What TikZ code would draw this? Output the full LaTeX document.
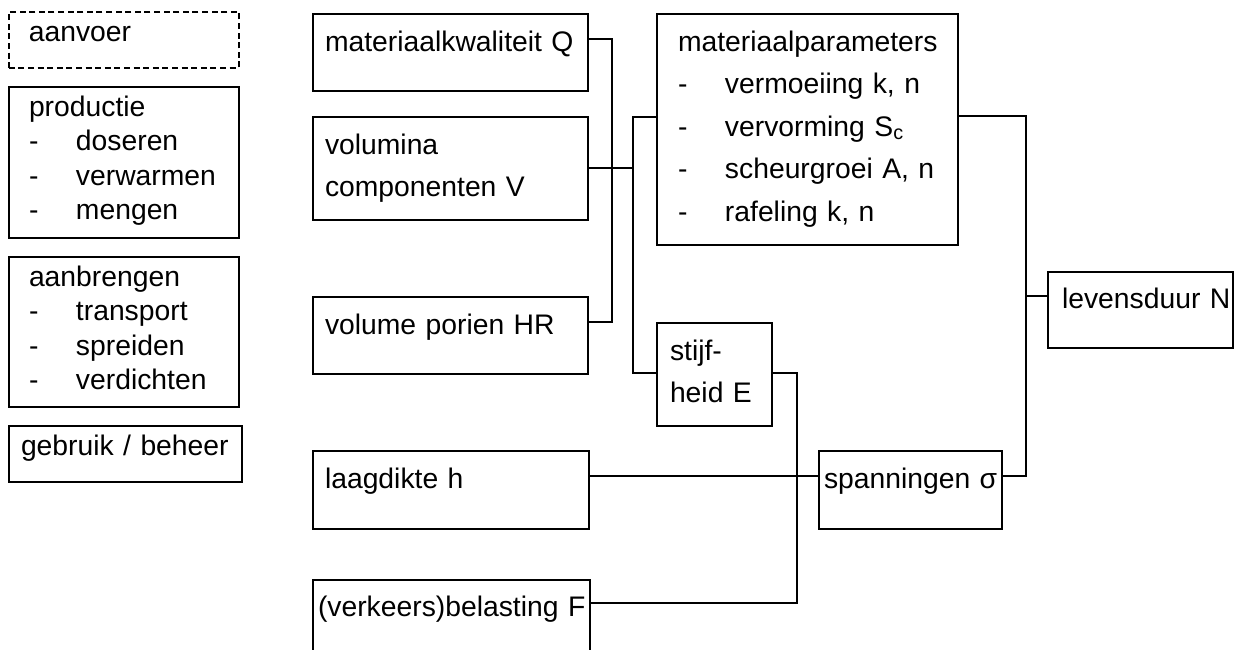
\documentclass[tikz,border=0pt]{standalone}
\usepackage{fontspec}
\setmainfont{Liberation Sans}
\usepackage{tikz}
\usetikzlibrary{calc}

\newcommand{\dashitem}{\makebox[47pt][l]{-}}

\begin{document}
\begin{tikzpicture}[
			x=1pt, y=-1pt,
			line width=2pt,
			box/.style={draw, line width=2pt, anchor=north west, align=left, inner ysep=0pt},
			txt/.style={font=\fontsize{28.3pt}{42.5pt}\selectfont},
			lst/.style={font=\fontsize{28.3pt}{34.5pt}\selectfont},
			conn/.style={draw, line width=1.8pt}
		]

		\useasboundingbox (0,0) rectangle (1235,649);
		\clip (0,0) rectangle (1235,649);

		\def\xLeft{8}
		\def\xMid{312}
		\def\xRight{656}

		%% 1. Left column: process steps
		\node[box, lst, dashed, dash pattern=on 6pt off 3.6pt, line width=1.7pt,
			text width=190pt, inner xsep=20pt, text height=30pt, text depth=26pt]
			(aanvoer) at (\xLeft, 11) {aanvoer};
		\node[box, lst, text width=190pt, inner xsep=20pt, text height=29pt, text depth=122pt]
			(prod) at (\xLeft, 86)
			{productie\\ \dashitem doseren\\ \dashitem verwarmen\\ \dashitem mengen};
		\node[box, lst, text width=190pt, inner xsep=20pt, text height=29pt, text depth=121pt]
			(aanbr) at (\xLeft, 256)
			{aanbrengen\\ \dashitem transport\\ \dashitem spreiden\\ \dashitem verdichten};
		\node[box, lst, text width=209pt, inner xsep=12pt, text height=29pt, text depth=27pt]
			(gebruik) at (\xLeft, 425) {\mbox{gebruik / beheer}};

		%% 2. Middle column: inputs
		\node[box, txt, text width=251pt, inner xsep=12pt, text height=37pt, text depth=40pt]
			(kwal) at (\xMid, 13) {\mbox{materiaalkwaliteit Q}};
		\node[box, txt, text width=251pt, inner xsep=12pt, text height=37pt, text depth=66pt]
			(vol) at (\xMid, 116) {volumina\\ \mbox{componenten V}};
		\node[box, txt, text width=251pt, inner xsep=12pt, text height=37pt, text depth=40pt]
			(porien) at (\xMid, 296) {\mbox{volume porien HR}};
		\node[box, txt, text width=252pt, inner xsep=12pt, text height=37pt, text depth=41pt]
			(laag) at (\xMid, 450) {\mbox{laagdikte h}};
		\node[box, txt, text width=267pt, inner xsep=5pt, text height=36pt, text depth=41pt]
			(belast) at (\xMid, 579) {\mbox{(verkeers)belasting F}};

		%% 3. Right part: parameters and results
		\node[box, txt, text width=259pt, inner xsep=21pt, text height=37pt, text depth=194pt]
			(param) at (\xRight, 13)
			{\mbox{materiaalparameters}\\
			 \dashitem vermoeiing k, n\\
			 \dashitem vervorming S\textsubscript{c}\\
			 \dashitem scheurgroei A, n\\
			 \dashitem rafeling k, n};
		\node[box, txt, text width=89pt, inner xsep=13pt, text height=37pt, text depth=66pt]
			(stijf) at (\xRight, 322) {stijf-\\ \mbox{heid E}};
		\node[box, txt, text width=173pt, inner xsep=5pt, text height=37pt, text depth=41pt]
			(span) at (818, 450) {\mbox{spanningen σ}};
		\node[box, txt, text width=157pt, inner xsep=14pt, text height=36pt, text depth=40pt]
			(leven) at (1047, 271) {\mbox{levensduur N}};

		%% Connectors
		\coordinate (jL) at ($(param.north west)+(-23,104)$);
		\coordinate (jR) at ($(param.north east)+(67,103)$);

		\draw[conn] ($(kwal.north east)+(0,26)$) -- ++(23,0) |- ($(porien.north east)+(0,26)$);
		\draw[conn] ($(param.north west)+(0,104)$) -- (jL) |- ($(stijf.north west)+(0,51)$);
		\draw[conn] ($(vol.north east)+(0,52)$) -| (jL);

		\draw[conn] ($(param.north east)+(0,103)$) -- (jR) |- ($(span.north east)+(0,26)$);
		\draw[conn] ($(leven.north west)+(0,25)$) -| (jR);

		\draw[conn] ($(stijf.north east)+(0,51)$) -- ++(24,0) |- ($(belast.north east)+(0,24)$);
		\draw[conn] ($(laag.north east)+(0,26)$) -- ($(span.north west)+(0,26)$);

		\end{tikzpicture}
\end{document}
